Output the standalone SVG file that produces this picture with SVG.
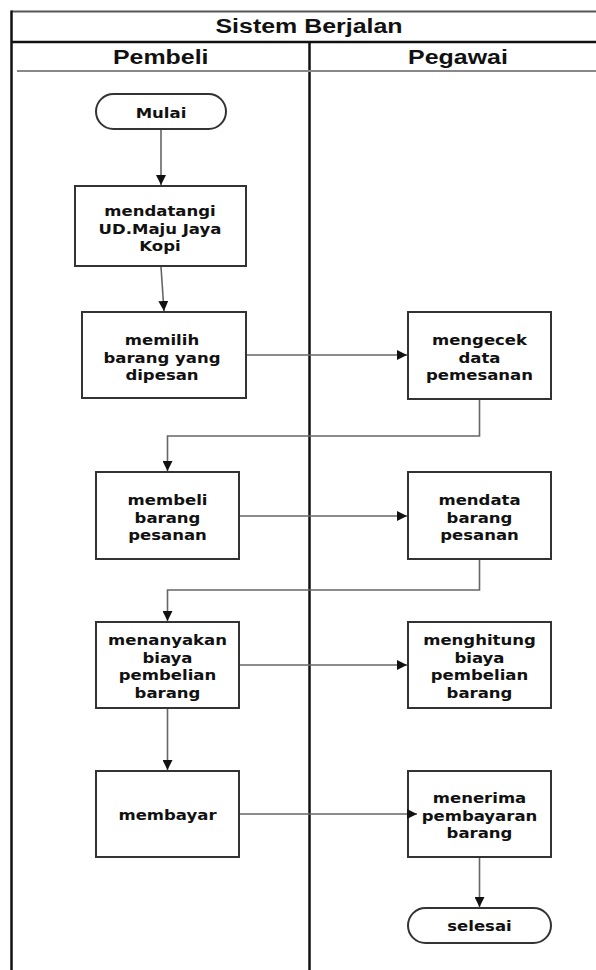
<svg xmlns="http://www.w3.org/2000/svg" width="596" height="970" viewBox="0 0 596 970">
<defs>
<style>
.bg{fill:#fff}
.node{fill:#fff;stroke:#333;stroke-width:2}
.t{font-family:"DejaVu Sans",Verdana,sans-serif;font-weight:bold;font-size:14px;fill:#111;text-anchor:middle}
.h{font-family:"Liberation Sans",Arial,sans-serif;font-weight:bold;font-size:19.5px;fill:#111;text-anchor:middle}
.frame{stroke:#111;stroke-width:2.5;fill:none}
.top{stroke:#555;stroke-width:2;fill:none}
.lane{stroke:#888;stroke-width:2;fill:none}
.c{stroke:#666;stroke-width:1.6;fill:none;marker-end:url(#ah)}
</style>
<marker id="ah" viewBox="0 0 10 10" refX="10" refY="5" markerWidth="10" markerHeight="10" markerUnits="userSpaceOnUse" orient="auto">
<path d="M0,0 L10,5 L0,10 Z" fill="#111"/>
</marker>
</defs>
<rect class="bg" x="0" y="0" width="596" height="970"/>
<g id="swimlane">
<line class="top" x1="11" y1="11.5" x2="596" y2="11.5"/>
<line class="frame" x1="11" y1="42" x2="596" y2="42"/>
<line class="frame" x1="11.5" y1="10.5" x2="11.5" y2="970"/>
<line class="frame" x1="309.5" y1="42" x2="309.5" y2="970"/>
<line class="lane" x1="17" y1="71" x2="596" y2="71"/>
<text class="h" transform="translate(309,33) scale(1.28,1)">Sistem Berjalan</text>
<text class="h" transform="translate(160.7,64) scale(1.28,1)">Pembeli</text>
<text class="h" transform="translate(458,64) scale(1.28,1)">Pegawai</text>
</g>
<g id="mulai">
<rect class="node" x="96" y="94" width="130" height="35" rx="17.5"/>
<text class="t" transform="translate(161,118) scale(1.18,1)">Mulai</text>
</g>
<g id="mendatangi">
<rect class="node" x="75" y="186" width="171" height="80"/>
<text class="t" transform="translate(160,0) scale(1.18,1)"><tspan x="0" y="216.5">mendatangi</tspan><tspan x="0" y="234">UD.Maju Jaya</tspan><tspan x="0" y="251.5">Kopi</tspan></text>
</g>
<g id="memilih">
<rect class="node" x="82" y="312" width="164" height="86"/>
<text class="t" transform="translate(162,0) scale(1.18,1)"><tspan x="0" y="345.5">memilih</tspan><tspan x="0" y="363">barang yang</tspan><tspan x="0" y="380.5">dipesan</tspan></text>
</g>
<g id="mengecek">
<rect class="node" x="408" y="312" width="143" height="87"/>
<text class="t" transform="translate(479.5,0) scale(1.18,1)"><tspan x="0" y="345.5">mengecek</tspan><tspan x="0" y="363">data</tspan><tspan x="0" y="380.5">pemesanan</tspan></text>
</g>
<g id="membeli">
<rect class="node" x="96" y="472" width="143" height="87"/>
<text class="t" transform="translate(167.5,0) scale(1.18,1)"><tspan x="0" y="505.5">membeli</tspan><tspan x="0" y="523">barang</tspan><tspan x="0" y="540.5">pesanan</tspan></text>
</g>
<g id="mendata">
<rect class="node" x="408" y="472" width="143" height="87"/>
<text class="t" transform="translate(479.5,0) scale(1.18,1)"><tspan x="0" y="505.5">mendata</tspan><tspan x="0" y="523">barang</tspan><tspan x="0" y="540.5">pesanan</tspan></text>
</g>
<g id="menanyakan">
<rect class="node" x="96" y="622" width="143" height="86"/>
<text class="t" transform="translate(167.5,0) scale(1.18,1)"><tspan x="0" y="645.5">menanyakan</tspan><tspan x="0" y="663">biaya</tspan><tspan x="0" y="680.5">pembelian</tspan><tspan x="0" y="698">barang</tspan></text>
</g>
<g id="menghitung">
<rect class="node" x="408" y="622" width="143" height="86"/>
<text class="t" transform="translate(479.5,0) scale(1.18,1)"><tspan x="0" y="645.5">menghitung</tspan><tspan x="0" y="663">biaya</tspan><tspan x="0" y="680.5">pembelian</tspan><tspan x="0" y="698">barang</tspan></text>
</g>
<g id="membayar">
<rect class="node" x="96" y="771" width="143" height="86"/>
<text class="t" transform="translate(167.5,820) scale(1.18,1)">membayar</text>
</g>
<g id="menerima">
<rect class="node" x="408" y="771" width="143" height="86"/>
<text class="t" transform="translate(479.5,0) scale(1.18,1)"><tspan x="0" y="803.5">menerima</tspan><tspan x="0" y="821">pembayaran</tspan><tspan x="0" y="838.5">barang</tspan></text>
</g>
<g id="selesai">
<rect class="node" x="408" y="908" width="143" height="35" rx="17.5"/>
<text class="t" transform="translate(479.5,931) scale(1.18,1)">selesai</text>
</g>
<g id="connectors">
<path class="c" d="M161,130 L161,185"/>
<path class="c" d="M161,267 L164,311"/>
<path class="c" d="M247,355 L407,355"/>
<path class="c" d="M479.5,400 L479.5,436 L167.5,436 L167.5,471"/>
<path class="c" d="M240,516 L407,516"/>
<path class="c" d="M479.5,560 L479.5,590 L167.5,590 L167.5,621"/>
<path class="c" d="M240,665 L407,665"/>
<path class="c" d="M167.5,709 L167.5,770"/>
<path class="c" d="M240,814 L417,814"/>
<path class="c" d="M479.5,858 L479.5,907"/>
</g>
</svg>
